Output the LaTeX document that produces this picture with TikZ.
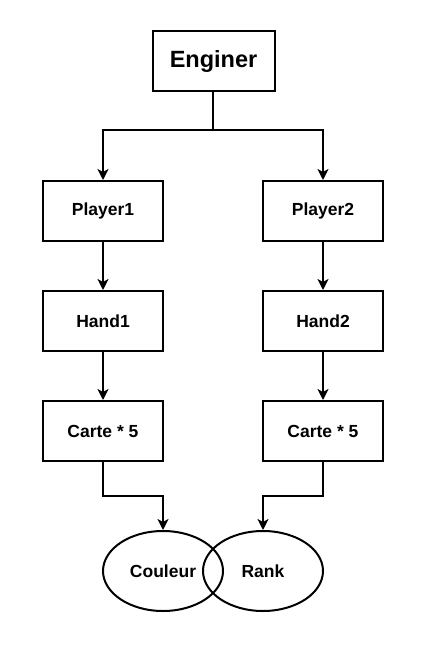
\documentclass[tikz,border=0pt]{standalone}
\usepackage{fontspec}
\setmainfont{Liberation Sans}
\usetikzlibrary{shapes.geometric,arrows.meta}
\begin{document}
\begin{tikzpicture}[x=1pt,y=-1pt,
  boxnode/.style={draw,line width=2pt,minimum width=120pt,minimum height=60pt,inner sep=0pt,font=\fontsize{17.5}{20}\selectfont\bfseries},
  ellnode/.style={draw,ellipse,line width=2pt,minimum width=120pt,minimum height=80pt,inner sep=0pt,font=\fontsize{17.5}{20}\selectfont\bfseries},
  conn/.style={line width=2pt,-{Stealth[length=11pt,width=11pt,inset=3pt]}},
  plain/.style={line width=2pt}]
\useasboundingbox (0,0) rectangle (433,651);
\node[boxnode,minimum width=122pt,font=\fontsize{23.5}{26}\selectfont\bfseries] (eng) at (213.5,61) {Enginer};
\node[boxnode] (p1) at (103,211) {Player1};
\node[boxnode] (p2) at (323,211) {Player2};
\node[boxnode] (h1) at (103,321) {Hand1};
\node[boxnode] (h2) at (323,321) {Hand2};
\node[boxnode] (c1) at (103,431) {Carte * 5};
\node[boxnode] (c2) at (323,431) {Carte * 5};
\node[ellnode] (cou) at (163,571) {Couleur};
\node[ellnode] (rank) at (263,571) {Rank};
\coordinate (j) at (213,130);
\draw[plain] (eng.south -| j) -- (j);
\draw[conn] (j) -| (p1.north);
\draw[conn] (j) -| (p2.north);
\draw[conn] (p1) -- (h1);
\draw[conn] (p2) -- (h2);
\draw[conn] (h1) -- (c1);
\draw[conn] (h2) -- (c2);
\draw[conn] (c1.south) |- (163,496) -- (cou.north);
\draw[conn] (c2.south) |- (263,496) -- (rank.north);
\end{tikzpicture}
\end{document}
